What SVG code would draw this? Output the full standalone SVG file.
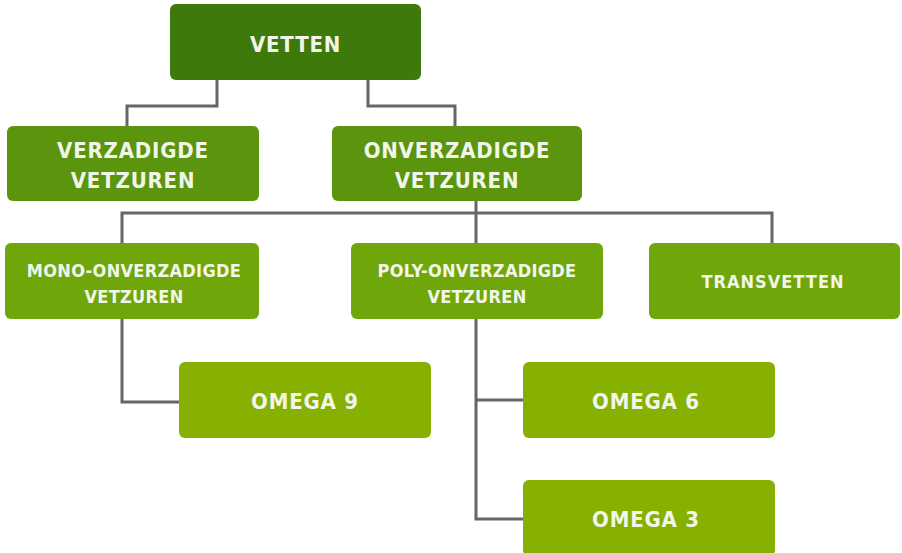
<svg xmlns="http://www.w3.org/2000/svg" width="902" height="553" viewBox="0 0 902 553">
<style>
.box{stroke:none}
.l1{fill:#3e790b}
.l2{fill:#5b950d}
.l3{fill:#6fa70a}
.l4{fill:#86b002}
text{font-family:"DejaVu Sans Condensed","Open Sans",sans-serif;font-weight:bold;fill:#f2f6ea;text-anchor:middle}
.big{font-size:22px;letter-spacing:0.8px}
.small{font-size:18px;letter-spacing:0.3px}
.conn{fill:none;stroke:#666666;stroke-width:3}
</style>
<rect width="902" height="553" fill="#ffffff"/>
<g id="connectors" class="conn">
<path d="M217 80V106H127V126"/>
<path d="M368 80V106H455V126"/>
<path d="M476 201V243"/>
<path d="M122 243V213H772V243"/>
<path d="M122 319V402H179"/>
<path d="M476 319V519H523"/>
<path d="M476 400H523"/>
</g>
<g id="vetten"><rect class="box l1" x="170" y="4" width="251" height="76" rx="6"/><text class="big" x="295.5" y="52">VETTEN</text></g>
<g id="verzadigde"><rect class="box l2" x="7" y="126" width="252" height="75" rx="6"/><text class="big" x="133" y="158">VERZADIGDE</text><text class="big" x="133" y="188">VETZUREN</text></g>
<g id="onverzadigde"><rect class="box l2" x="332" y="126" width="250" height="75" rx="6"/><text class="big" x="457" y="158">ONVERZADIGDE</text><text class="big" x="457" y="188">VETZUREN</text></g>
<g id="mono"><rect class="box l3" x="5" y="243" width="254" height="76" rx="6"/><text class="small" x="134" y="277">MONO-ONVERZADIGDE</text><text class="small" x="134" y="303">VETZUREN</text></g>
<g id="poly"><rect class="box l3" x="351" y="243" width="252" height="76" rx="6"/><text class="small" x="477" y="277">POLY-ONVERZADIGDE</text><text class="small" x="477" y="303">VETZUREN</text></g>
<g id="transvetten"><rect class="box l3" x="649" y="243" width="251" height="76" rx="6"/><text class="small" x="773" y="288" style="letter-spacing:1px">TRANSVETTEN</text></g>
<g id="omega9"><rect class="box l4" x="179" y="362" width="252" height="76" rx="6"/><text class="big" x="305" y="409">OMEGA 9</text></g>
<g id="omega6"><rect class="box l4" x="523" y="362" width="252" height="76" rx="6"/><text class="big" x="646" y="409">OMEGA 6</text></g>
<g id="omega3"><rect class="box l4" x="523" y="480" width="252" height="76" rx="6"/><text class="big" x="646" y="527">OMEGA 3</text></g>
</svg>
